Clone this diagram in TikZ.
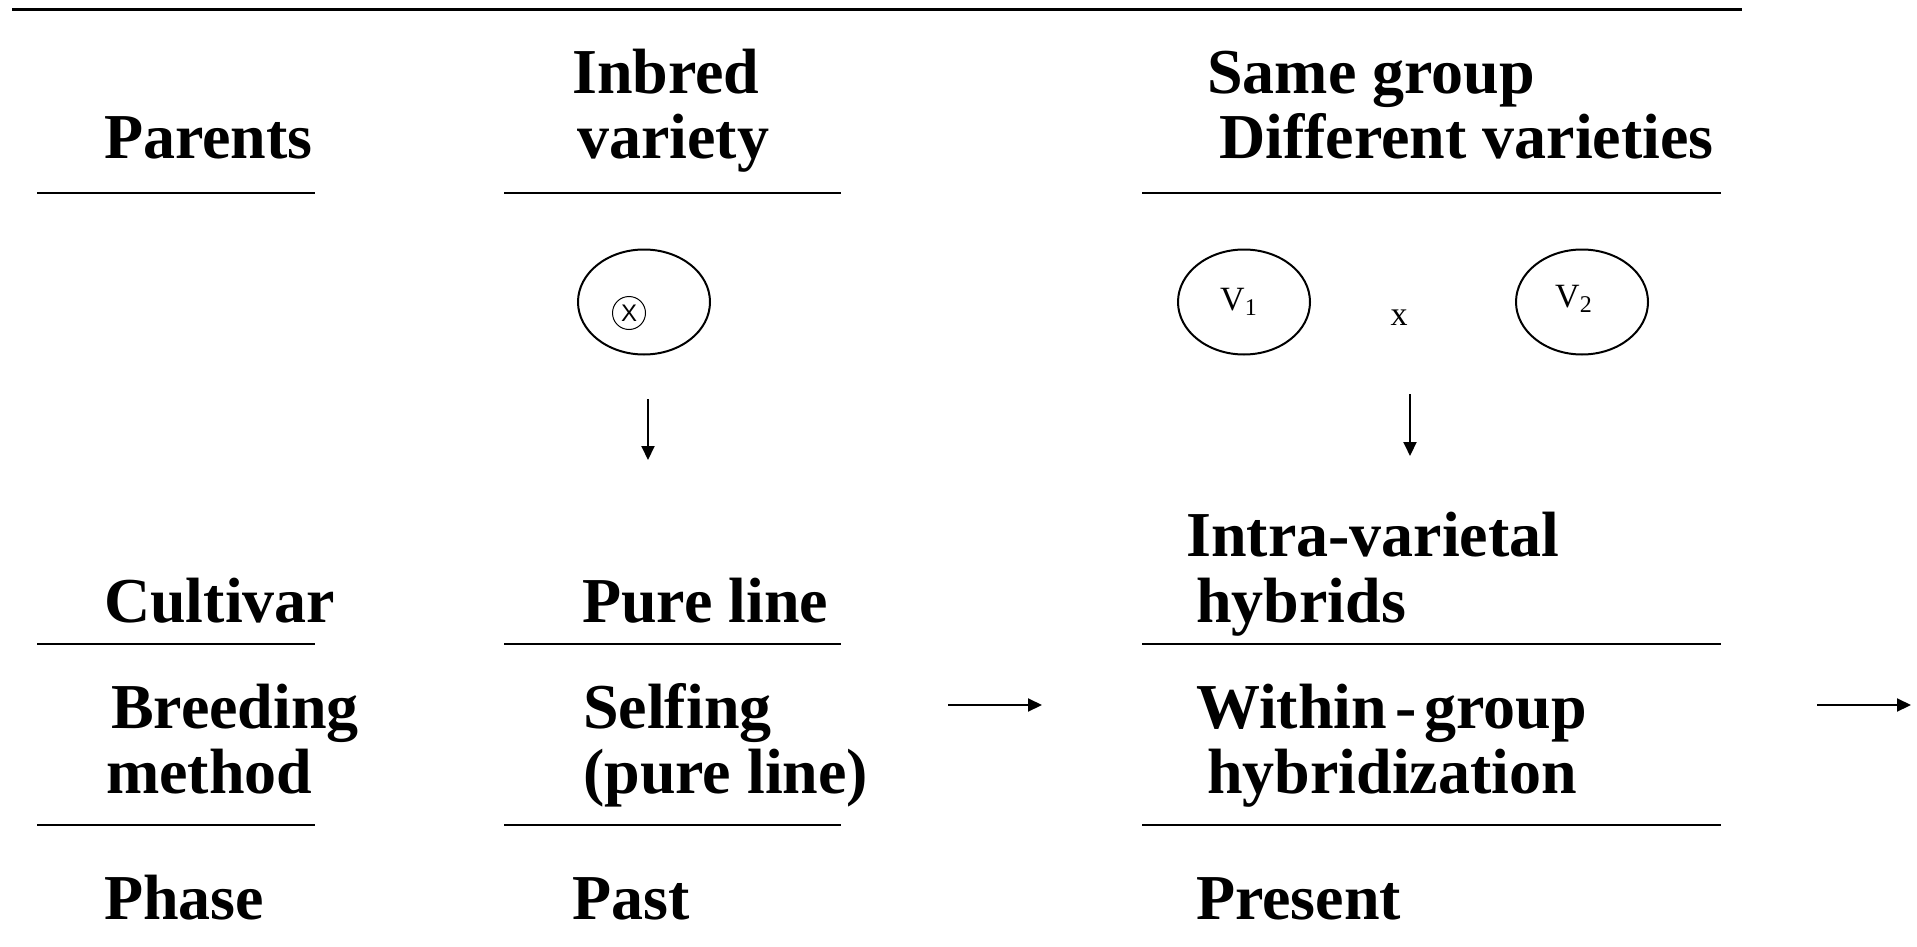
\documentclass[tikz,border=0pt]{standalone}
\usepackage{fontspec}
\setmainfont{Liberation Serif}
\newfontfamily\sansx{Liberation Sans}
\usetikzlibrary{arrows.meta,shapes.geometric}
\begin{document}
\begin{tikzpicture}[x=1pt,y=-1pt,
  lbl/.style={anchor=base west,inner sep=0pt,font=\fontsize{64}{64}\selectfont\bfseries},
  rule/.style={line width=2pt},
  oval/.style={draw,line width=2pt,ellipse,minimum width=132pt,minimum height=105pt,inner sep=0pt},
  arr/.style={line width=2pt,-{Triangle[length=14pt,width=13pt]}}]
\useasboundingbox (0,0) rectangle (1917,947);
% top rule
\draw[line width=3pt] (12,10) -- (1742,10);
% column rules
\foreach \y in {193,644,825}{
  \draw[rule] (37,\y) -- (315,\y);
  \draw[rule] (504,\y) -- (841,\y);
  \draw[rule] (1142,\y) -- (1721,\y);
}
% header row
\node[lbl] (parents) at (104,159) {Parents};
\node[lbl] (inbred) at (572,94) {Inbred};
\node[lbl] (variety) at (577,159) {variety};
\node[lbl] (same) at (1207,94) {Same group};
\node[lbl] (diff) at (1219,159) {Different varieties};
% ellipses
\node[oval] (e1) at (644,302) {};
\node[draw,circle,line width=1pt,minimum size=33pt,inner sep=0pt,font=\sansx\fontsize{24}{24}\selectfont] (self) at (629,313) {X};
\node[oval] (v1) at (1244,302) {};
\node[oval] (v2) at (1582,302) {};
\node[anchor=base west,inner sep=0pt,font=\fontsize{34}{34}\selectfont] (v1t) at (1220,310) {V\raisebox{-5pt}{\fontsize{24}{24}\selectfont 1}};
\node[anchor=base west,inner sep=0pt,font=\fontsize{34}{34}\selectfont] (v2t) at (1555,307) {V\raisebox{-5pt}{\fontsize{24}{24}\selectfont 2}};
\node[anchor=base,inner sep=0pt,font=\fontsize{34}{34}\selectfont] (cross) at (1399,325) {x};
% down arrows
\coordinate (a1s) at (648,399);
\coordinate (a1e) at (648,460);
\draw[arr] (a1s) -- (a1e);
\coordinate (a2s) at (1410,394);
\coordinate (a2e) at (1410,456);
\draw[arr] (a2s) -- (a2e);
% cultivar row
\node[lbl] (cultivar) at (104,622) {Cultivar};
\node[lbl] (pure) at (582,622) {Pure line};
\node[lbl] (intra) at (1186,556) {Intra-varietal};
\node[lbl] (hyb) at (1196,622) {hybrids};
% breeding method row
\node[lbl] (breeding) at (111,728) {Breeding};
\node[lbl] (method) at (106,793) {method};
\node[lbl] (selfing) at (583,728) {Selfing};
\node[lbl] (pureb) at (583,793) {(pure line)};
\node[lbl] (within) at (1196,728) {Within\hspace{8pt}-\hspace{8pt}group};
\node[lbl] (hybz) at (1207,793) {hybridization};
% horizontal arrows
\coordinate (h1s) at (948,705);
\coordinate (h1e) at (1042,705);
\draw[arr] (h1s) -- (h1e);
\coordinate (h2s) at (1817,705);
\coordinate (h2e) at (1911,705);
\draw[arr] (h2s) -- (h2e);
% phase row
\node[lbl] (phase) at (104,919) {Phase};
\node[lbl] (past) at (572,919) {Past};
\node[lbl] (present) at (1196,919) {Present};
\end{tikzpicture}
\end{document}
